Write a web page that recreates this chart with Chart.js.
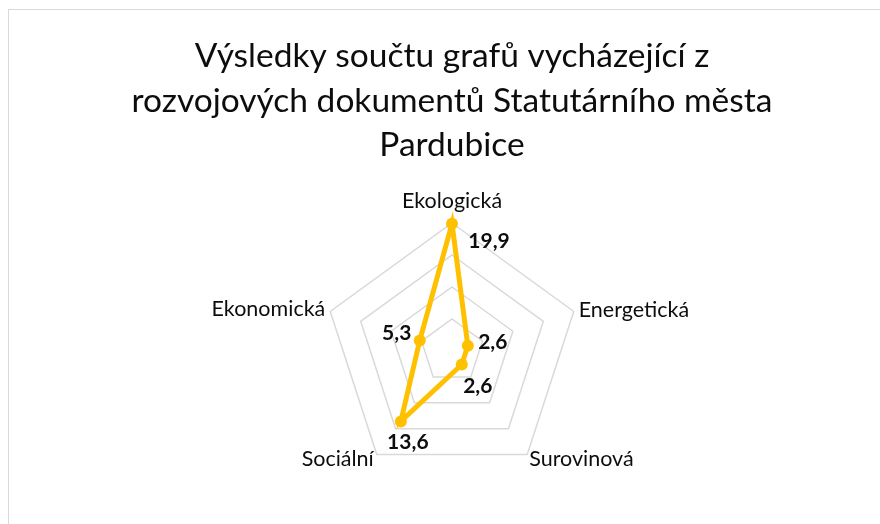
<!doctype html>
<html lang="cs">
    <head>
        <meta charset="UTF-8"/>
        <title>Pardubice</title>
        <script src="https://cdn.jsdelivr.net/npm/chart.js@4.4.0/dist/chart.umd.min.js"></script>
        <style>
         * { margin: 0; padding: 0; }
         body { width: 880px; height: 524px; overflow: hidden; background: #fff; }
         #frame {
             position: absolute; left: 8px; top: 9px;
             width: 900px; height: 600px;
             border: 1px solid #d9d9d9;
         }
         #wrap { position: absolute; left: 0; top: 0; width: 880px; height: 524px; }
        </style>
    </head>
    <body>
        <div id="frame"></div>
        <div id="wrap"><canvas id="chart1"></canvas></div>
        <script>
         const titleLines = ['Výsledky součtu grafů vycházející z',
                             'rozvojových dokumentů Statutárního města',
                             'Pardubice'];
         const categories = ['Ekologická', 'Energetická', 'Surovinová', 'Sociální', 'Ekonomická'];
         const values = [19.9, 2.6, 2.6, 13.6, 5.3];
         const scaleMax = 20;
         const scaleStep = 5;

         // data label nudges from each point (Excel placed these by hand)
         const labelShift = [[37, 18], [25, -4], [16, 22], [7, 21], [-23, -7]];
         // category label placement around the outer ring
         const catPlace = [
             { align: 'center', dx: 0, dy: -22 },
             { align: 'left', dx: 5, dy: -1 },
             { align: 'left', dx: 2, dy: 5 },
             { align: 'right', dx: -3, dy: 5 },
             { align: 'right', dx: -5, dy: -2 }
         ];

         const textPlugin = {
             id: 'textPlugin',
             afterDraw(chart) {
                 const ctx = chart.ctx;
                 const scale = chart.scales.r;
                 const meta = chart.getDatasetMeta(0);
                 ctx.save();
                 ctx.textBaseline = 'middle';
                 ctx.fillStyle = '#0d0d0d';

                 ctx.font = '21.5px Lato';
                 categories.forEach((name, i) => {
                     const p = scale.getPointPosition(i, scale.drawingArea);
                     ctx.textAlign = catPlace[i].align;
                     ctx.fillText(name, p.x + catPlace[i].dx, p.y + catPlace[i].dy);
                 });

                 ctx.font = 'bold 21px Lato';
                 ctx.textAlign = 'center';
                 meta.data.forEach((pt, i) => {
                     const txt = values[i].toFixed(1).replace('.', ',');
                     ctx.fillText(txt, pt.x + labelShift[i][0], pt.y + labelShift[i][1]);
                 });
                 ctx.restore();
             }
         };

         let ctx1 = document.getElementById('chart1').getContext('2d');
         let radarChart = new Chart(ctx1, {
             type: 'radar',
             data: {
                 labels: categories,
                 datasets: [{
                     data: values,
                     borderColor: '#ffc000',
                     backgroundColor: '#ffc000',
                     borderWidth: 5,
                     pointRadius: 6,
                     pointBackgroundColor: '#ffc000',
                     pointBorderWidth: 0,
                     fill: false
                 }]
             },
             options: {
                 responsive: true,
                 maintainAspectRatio: false,
                 animation: false,
                 layout: { padding: { top: 0, bottom: 44, left: 24, right: 0 } },
                 plugins: {
                     legend: { display: false },
                     tooltip: { enabled: false },
                     title: {
                         display: true,
                         text: titleLines,
                         color: '#0d0d0d',
                         font: { family: 'Lato', size: 33.5, weight: 'normal', lineHeight: 1.33 },
                         padding: { top: 34, bottom: 55 }
                     }
                 },
                 scales: {
                     r: {
                         min: 0,
                         max: scaleMax,
                         ticks: { stepSize: scaleStep, display: false },
                         angleLines: { display: false },
                         grid: { color: '#d9d9d9', lineWidth: 1.5 },
                         pointLabels: { display: false }
                     }
                 }
             },
             plugins: [textPlugin]
         });
        </script>
    </body>
</html>
